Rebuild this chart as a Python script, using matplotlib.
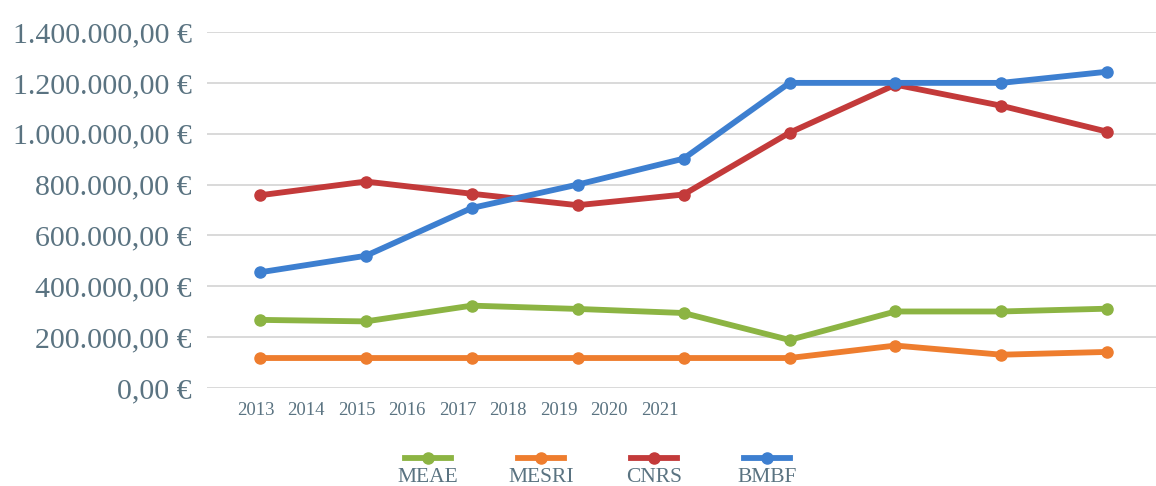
import matplotlib
matplotlib.use("Agg")
import matplotlib.pyplot as plt
from matplotlib.lines import Line2D

# data (euros)
years = ["2013", "2014", "2015", "2016", "2017", "2018", "2019", "2020", "2021"]
meae = [268000, 262000, 324000, 311000, 295000, 189000, 301000, 301000, 312000]
mesri = [118000, 118000, 118000, 118000, 118000, 118000, 167000, 131000, 142000]
cnrs = [758000, 812000, 764000, 719000, 761000, 1004000, 1193000, 1110000, 1008000]
bmbf = [455000, 520000, 708000, 800000, 902000, 1200000, 1200000, 1200000, 1244000]

series = [("MEAE", meae, "#8cb443"), ("MESRI", mesri, "#ee7d2e"),
          ("CNRS", cnrs, "#c33a3a"), ("BMBF", bmbf, "#3d7fd0")]
TXT = "#5a7381"
SERIF = ["Liberation Serif", "DejaVu Serif"]

fig = plt.figure(figsize=(11.56, 4.86), dpi=100)
ax = fig.add_axes([0.179, 0.2016, 0.821, 0.7325])

x = list(range(len(years)))
for name, vals, c in series:
    ax.plot(x, vals, "-o", color=c, lw=4.2, ms=8, solid_capstyle="round", zorder=3)

ax.set_ylim(0, 1400000)
ax.set_xlim(-0.5, 8.46)
ax.set_yticks(range(0, 1400001, 200000))
ax.set_yticklabels([f"{v:,.2f} €".replace(",", "X").replace(".", ",").replace("X", ".")
                    for v in range(0, 1400001, 200000)],
                   family=SERIF, fontsize=21.5, color=TXT)
ax.grid(axis="y", color="#d9d9d9", lw=1.4)
ax.set_axisbelow(True)

# year labels are squeezed into the left half, as in the source
ax.set_xticks([i * 0.477 - 0.04 for i in x])
ax.set_xticklabels(years, family=SERIF, fontsize=13.5, color=TXT)
ax.tick_params(length=0, pad=10)
ax.tick_params(axis="y", pad=11)
for s in ax.spines.values():
    s.set_visible(False)

# legend: handle above label
for i, (name, vals, c) in enumerate(series):
    cx = (428 + i * 113) / 1156
    fig.add_artist(Line2D([cx - 0.02, cx + 0.02], [0.058, 0.058], color=c, lw=4.2,
                          transform=fig.transFigure))
    fig.add_artist(Line2D([cx], [0.058], marker="o", ms=8, color=c,
                          transform=fig.transFigure))
    fig.text(cx, 0.018, name, ha="center", va="center", family=SERIF,
             fontsize=15.5, color=TXT)

fig.savefig("out.png", dpi=100)
